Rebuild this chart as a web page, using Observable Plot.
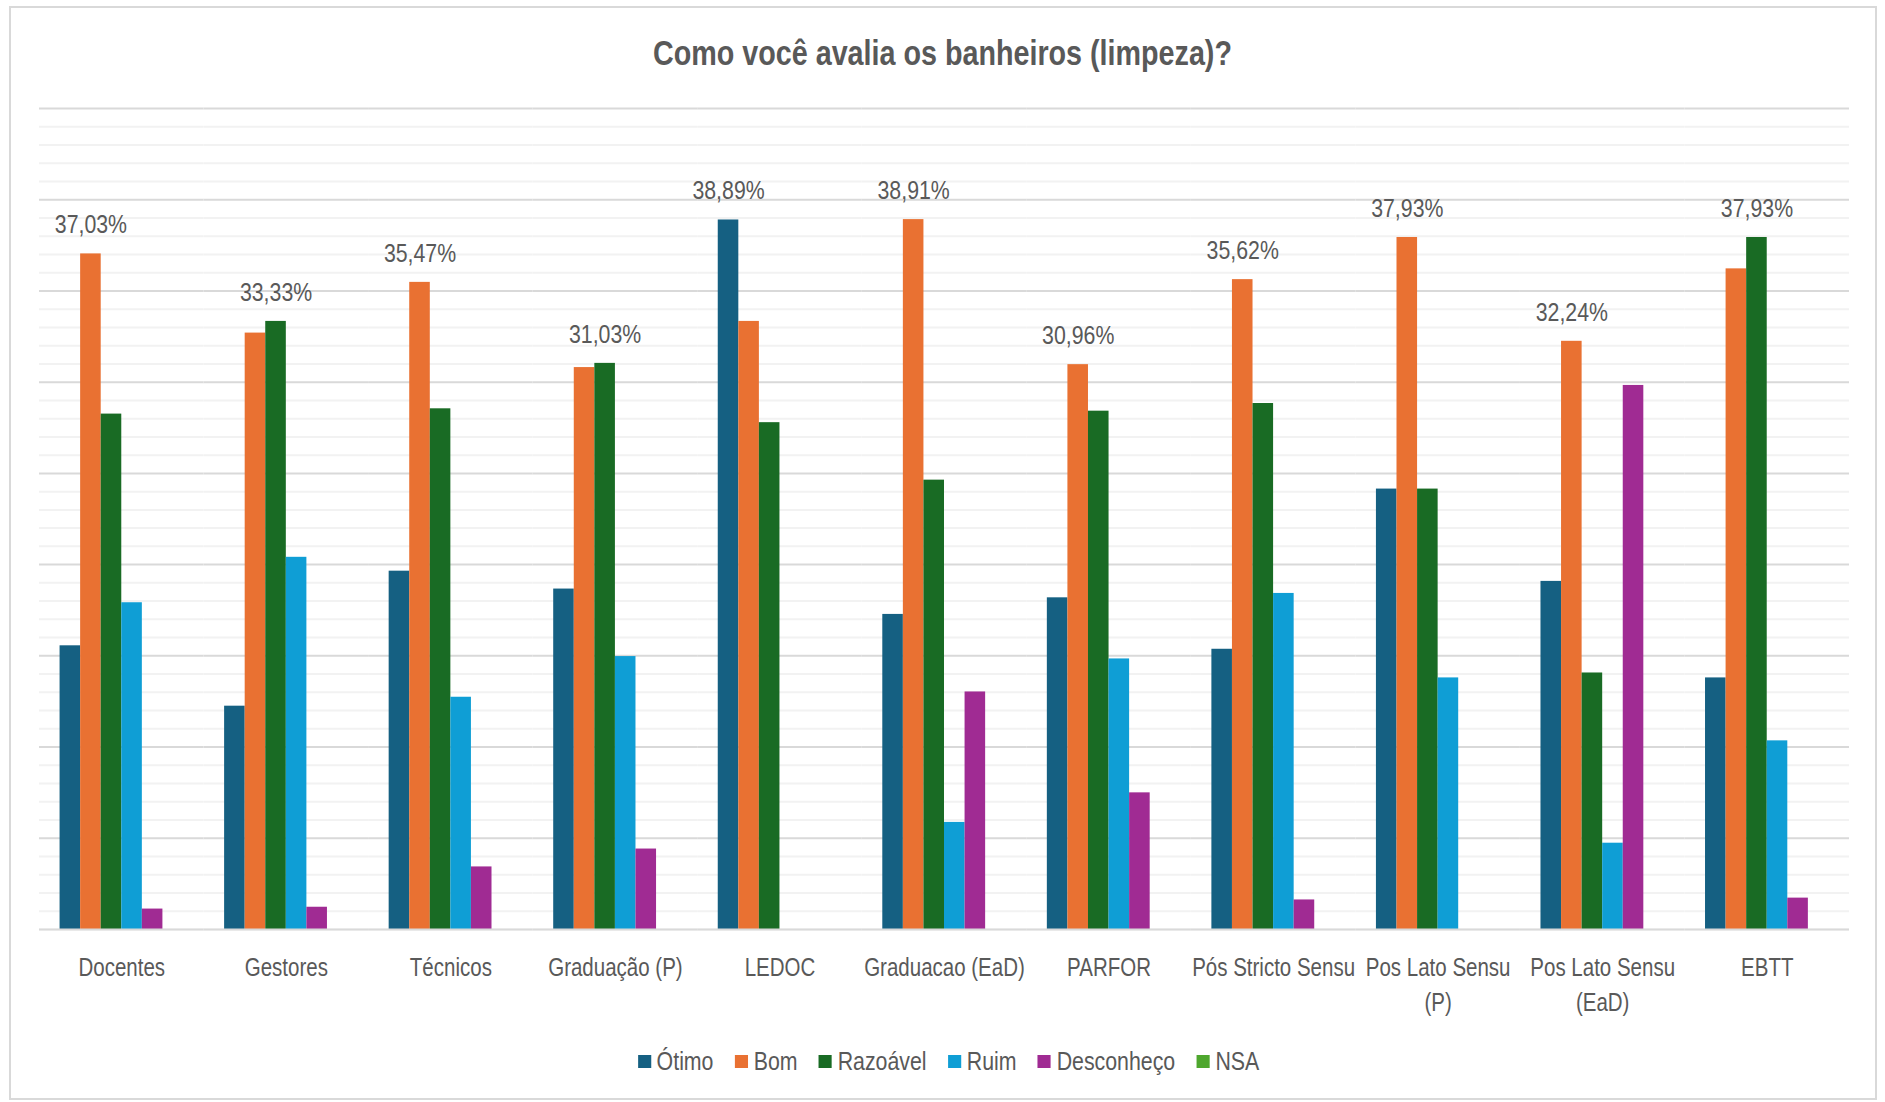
<!DOCTYPE html>
<html>
<head>
<meta charset="utf-8">
<script src="https://cdn.jsdelivr.net/npm/d3@7"></script>
<script src="https://cdn.jsdelivr.net/npm/@observablehq/plot@0.6"></script>
<style>
  body { margin: 0; background: #ffffff; }
  #wrap { position: relative; width: 1885px; height: 1102px; overflow: hidden;
          font-family: "Liberation Sans", Arial, sans-serif; }
  #frame { position: absolute; left: 9px; top: 6px; width: 1868px; height: 1094px;
           border: 2px solid #d9d9d9; box-sizing: border-box; }
  #title { position: absolute; left: 0; right: 0; top: 35px; line-height: 36px; text-align: center;
           font-weight: bold; font-size: 35px; color: #595959;
           transform: scaleX(0.82); transform-origin: 942.5px 50%; }
  #chart { position: absolute; left: 0; top: 0; }
  #legend { position: absolute; left: 12px; right: 0; top: 1045px; height: 32px; display: flex;
            justify-content: center; align-items: center; gap: 26px; font-size: 26px; color: #595959;
            transform: scaleX(0.82); transform-origin: 936.5px 50%; }
  .item { display: flex; align-items: center; }
  .sw { width: 16px; height: 13px; margin-right: 7px; }
</style>
</head>
<body>
<div id="wrap">
  <div id="frame"></div>
  <div id="title">Como você avalia os banheiros (limpeza)?</div>
  <div id="chart"></div>
  <div id="legend"></div>
</div>
<script>
const categories = ["Docentes", "Gestores", "Técnicos", "Graduação (P)", "LEDOC", "Graduacao (EaD)", "PARFOR", "Pós Stricto Sensu", "Pos Lato Sensu (P)", "Pos Lato Sensu (EaD)", "EBTT"];
const tickLabels = ["Docentes", "Gestores", "Técnicos", "Graduação (P)", "LEDOC", "Graduacao (EaD)", "PARFOR", "Pós Stricto Sensu", "Pos Lato Sensu\n(P)", "Pos Lato Sensu\n(EaD)", "EBTT"];
const series = ["Ótimo", "Bom", "Razoável", "Ruim", "Desconheço", "NSA"];
const colors = ["#156082", "#E97132", "#196B24", "#0F9ED5", "#A02B93", "#4EA72E"];

const otimo      = [15.55, 12.24, 19.64, 18.66, 38.89, 17.27, 18.18, 15.36, 24.14, 19.08, 13.79];
const bom        = [37.03, 32.69, 35.47, 30.80, 33.33, 38.91, 30.96, 35.62, 37.93, 32.24, 36.21];
const razoavel   = [28.25, 33.33, 28.54, 31.03, 27.78, 24.63, 28.41, 28.83, 24.14, 14.06, 37.93];
const ruim       = [17.91, 20.40, 12.73, 14.96, 0,     5.87,  14.83, 18.42, 13.79, 4.73,  10.34];
const desconheco = [1.12,  1.22,  3.43,  4.41,  0,     13.02, 7.49,  1.62,  0,     29.82, 1.72];
const nsa        = [0,     0,     0,     0,     0,     0,     0,     0,     0,     0,     0];

const minorTicks = [0,1,2,3,4,6,7,8,9,11,12,13,14,16,17,18,19,21,22,23,24,26,27,28,29,31,32,33,34,36,37,38,39,41,42,43,44];
const majorTicks = [5, 10, 15, 20, 25, 30, 35, 40, 45];

const seriesValues = [otimo, bom, razoavel, ruim, desconheco, nsa];
const rows = [];
categories.forEach((c, i) => {
  series.forEach((s, j) => rows.push({cat: c, series: s, value: seriesValues[j][i]}));
});
const labelRows = categories.map(c => {
  const group = rows.filter(r => r.cat === c);
  return group.reduce((a, b) => (b.value > a.value ? b : a));
});
const fmt = v => v.toFixed(2).replace(".", ",") + "%";
const tickMap = new Map(categories.map((c, i) => [c, tickLabels[i]]));

const FONT = '"Liberation Sans", Arial, sans-serif';

const chart = Plot.plot({
  width: 1885,
  height: 1040,
  marginTop: 108,
  marginBottom: 111,
  marginLeft: 39,
  marginRight: 36,
  style: {fontFamily: FONT, background: "transparent", overflow: "visible"},
  fx: {domain: categories, padding: 0, round: false, axis: null},
  x: {domain: series, paddingInner: 0, paddingOuter: 1, round: false, axis: null},
  y: {domain: [0, 45], axis: null},
  color: {domain: series, range: colors},
  marks: [
    Plot.ruleY(minorTicks, {y: d => d, stroke: "#f2f2f2", strokeWidth: 2}),
    Plot.ruleY(majorTicks, {y: d => d, stroke: "#d9d9d9", strokeWidth: 2}),
    Plot.barY(rows, {fx: "cat", x: "series", y: "value", fill: "series"}),
    Plot.ruleY([0], {stroke: "#d9d9d9", strokeWidth: 2}),
    Plot.text(labelRows, {fx: "cat", x: "series", y: "value", text: d => fmt(d.value),
      dy: -29, fontSize: 26, fill: "#595959"}),
    Plot.text(categories, {fx: d => d, text: d => tickMap.get(d), frameAnchor: "bottom",
      lineAnchor: "top", dy: 22, fontSize: 25, lineHeight: 1.4, fill: "#595959"})
  ]
});
// narrow the typeface horizontally (Arial Narrow look)
chart.querySelectorAll("text").forEach(t => {
  const tr = t.getAttribute("transform");
  if (tr) t.setAttribute("transform", tr + " scale(0.82,1)");
});
document.getElementById("chart").appendChild(chart);

const legend = document.getElementById("legend");
series.forEach((s, i) => {
  const item = document.createElement("div");
  item.className = "item";
  const sw = document.createElement("div");
  sw.className = "sw";
  sw.style.background = colors[i];
  const t = document.createElement("span");
  t.textContent = s;
  item.appendChild(sw);
  item.appendChild(t);
  legend.appendChild(item);
});
</script>
</body>
</html>
